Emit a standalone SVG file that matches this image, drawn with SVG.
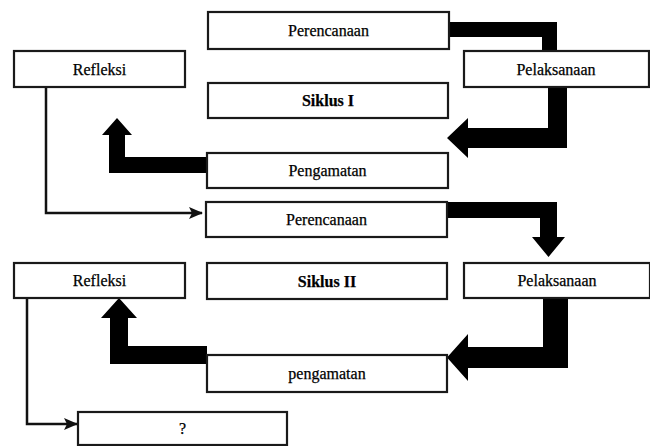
<svg xmlns="http://www.w3.org/2000/svg" width="650" height="446" viewBox="0 0 650 446">
<defs>
<style>
.box{fill:#fff;stroke:#1a1a1a;stroke-width:2.2}
.t{font-family:"Liberation Serif","Times New Roman",serif;font-size:16px;fill:#000;stroke:#000;stroke-width:0.25;text-anchor:middle;dominant-baseline:central}
.b{font-weight:bold}
.thick{fill:#000}
.thin{fill:none;stroke:#111;stroke-width:2.5}
</style>
<marker id="ah" markerUnits="userSpaceOnUse" markerWidth="14" markerHeight="12" refX="13" refY="6" orient="auto">
<path d="M0,0 L14,6 L0,12 L3,6 Z" fill="#111"/>
</marker>
</defs>
<rect width="650" height="446" fill="#fff"/>
<g id="connectors">
<polygon class="thick" points="449,22 557,22 557,52 542,52 542,37 449,37"/>
<polygon class="thick" points="548,87 567,87 567,148 468,148 468,158 447,138 468,118 468,128 548,128"/>
<polygon class="thick" points="207,157 207,173 109,173 109,135 102,135 117,118 132,135 125,135 125,157"/>
<path class="thin" d="M46,87 V213 H202" marker-end="url(#ah)"/>
<polygon class="thick" points="447,202 557,202 557,237 565,237 548.5,257 532,237 540,237 540,218 447,218"/>
<polygon class="thick" points="543,298 568,298 568,368 468,368 468,381 447,357.5 468,334 468,347 543,347"/>
<polygon class="thick" points="207,346 207,364 110,364 110,318 101,318 119,298 137,318 128,318 128,346"/>
<path class="thin" d="M27,298 V424 H77" marker-end="url(#ah)"/>
</g>
<g id="perencanaan1"><rect class="box" x="208" y="12" width="241" height="37"/><text class="t" x="328.5" y="30.5">Perencanaan</text></g>
<g id="refleksi1"><rect class="box" x="14" y="51" width="171" height="36"/><text class="t" x="99.5" y="69">Refleksi</text></g>
<g id="pelaksanaan1"><rect class="box" x="464" y="51" width="185" height="36"/><text class="t" x="556" y="69">Pelaksanaan</text></g>
<g id="siklus1"><rect class="box" x="208" y="83" width="240" height="35"/><text class="t b" x="328" y="100.5">Siklus I</text></g>
<g id="pengamatan1"><rect class="box" x="207" y="153" width="241" height="35"/><text class="t" x="327.5" y="170.5">Pengamatan</text></g>
<g id="perencanaan2"><rect class="box" x="206" y="202" width="241" height="35"/><text class="t" x="326.5" y="219.5">Perencanaan</text></g>
<g id="refleksi2"><rect class="box" x="14" y="263" width="171" height="35"/><text class="t" x="99.5" y="280.5">Refleksi</text></g>
<g id="siklus2"><rect class="box" x="207" y="263" width="240" height="36"/><text class="t b" x="327" y="281">Siklus II</text></g>
<g id="pelaksanaan2"><rect class="box" x="464" y="263" width="186" height="35"/><text class="t" x="557" y="280.5">Pelaksanaan</text></g>
<g id="pengamatan2"><rect class="box" x="207" y="355" width="240" height="37"/><text class="t" x="327" y="373.5">pengamatan</text></g>
<g id="hasil"><rect class="box" x="78" y="412" width="209" height="33"/><text class="t" x="182.5" y="428.5">?</text></g>
</svg>
